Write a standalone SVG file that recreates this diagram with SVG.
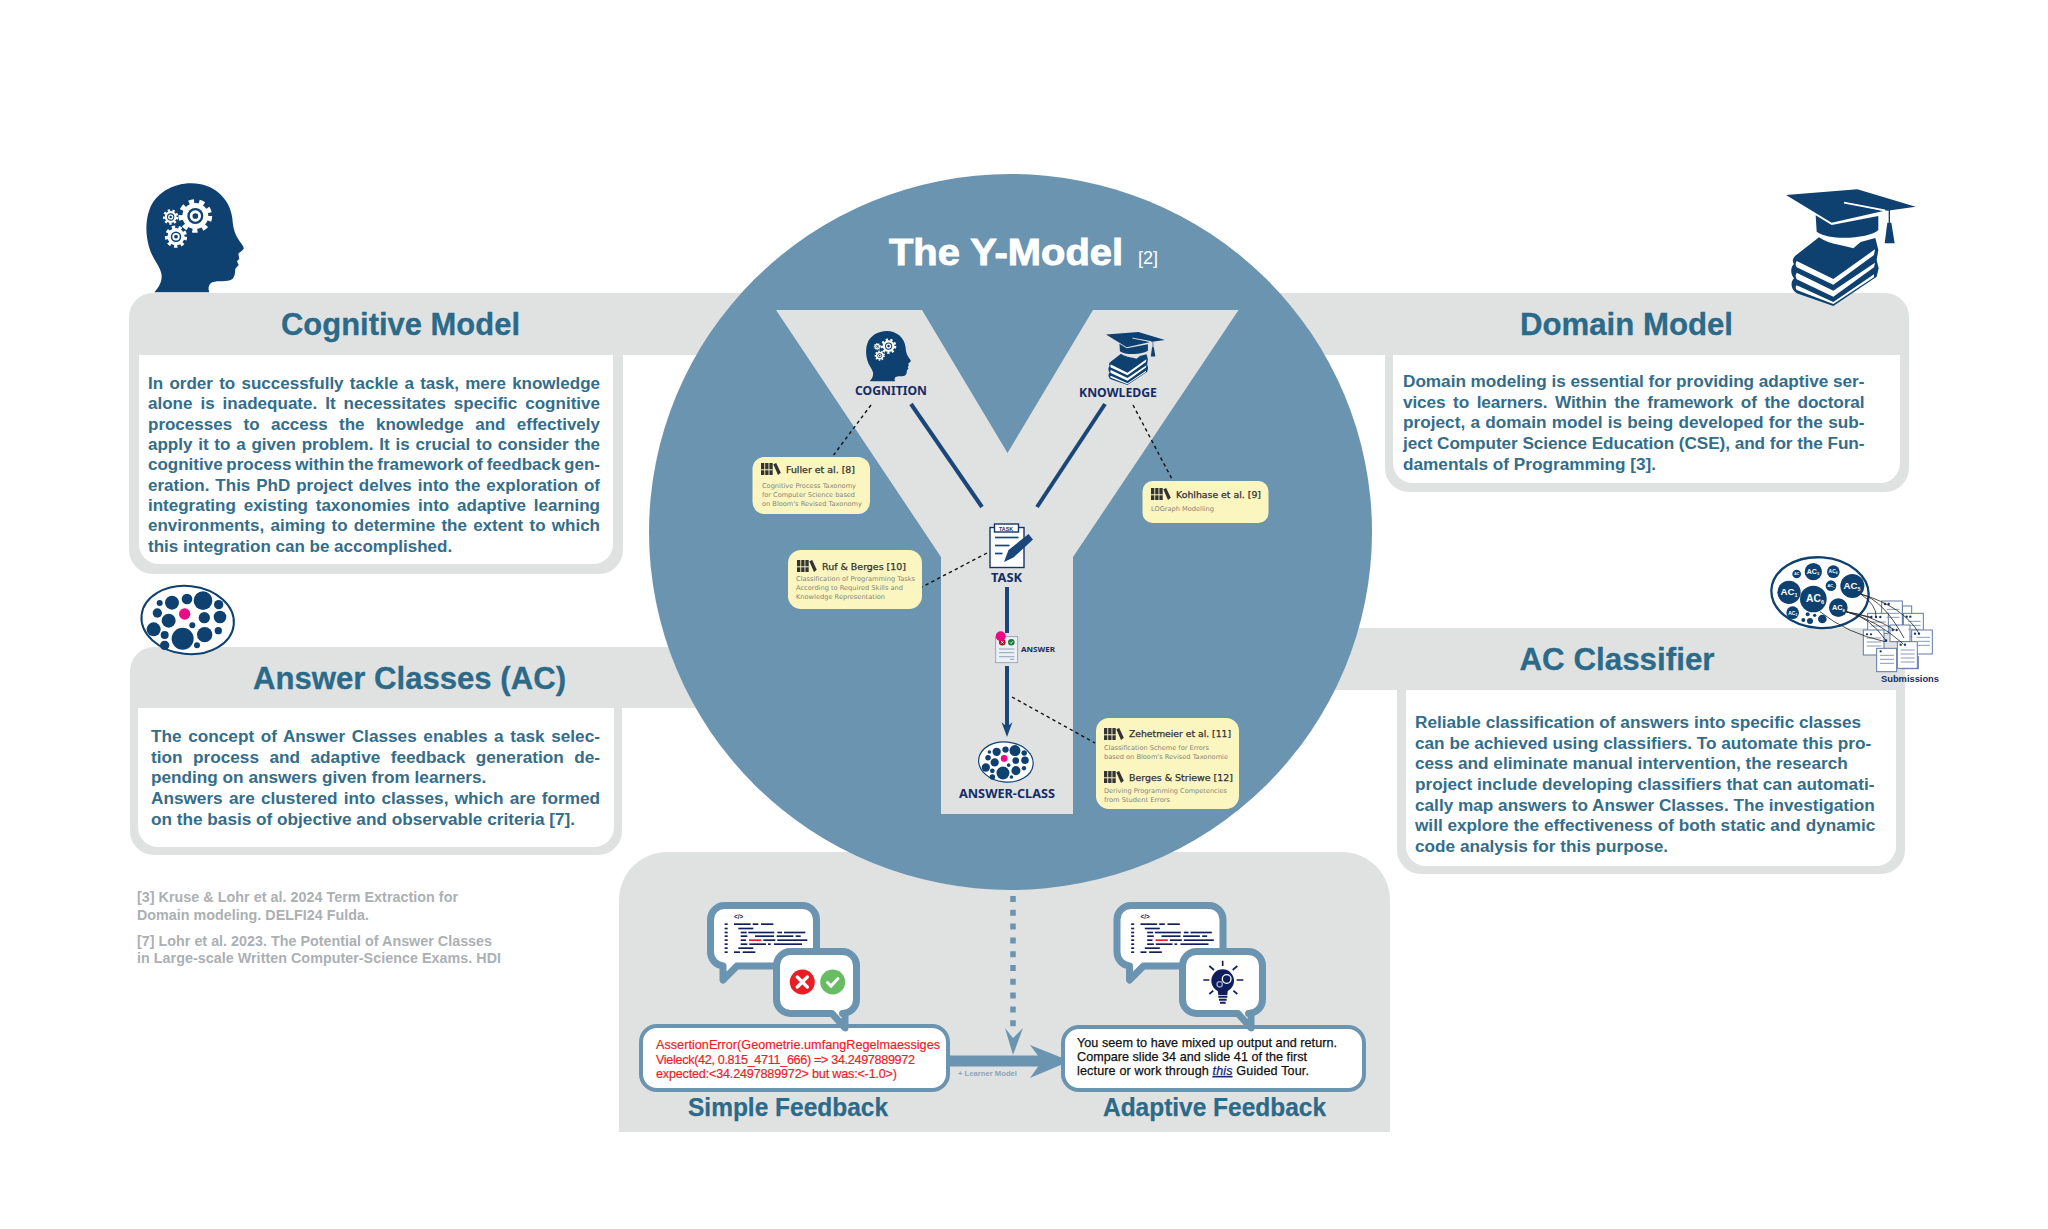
<svg xmlns="http://www.w3.org/2000/svg" width="2048" height="1229" viewBox="0 0 2048 1229">
<style>
text{font-family:"Liberation Sans",Arial,sans-serif}
.panel{fill:#e0e2e2}
.inner{fill:#fff}
.h{font-weight:700;font-size:31px;fill:#2b6a88;stroke:#2b6a88;stroke-width:.3}
.b{font-weight:700;font-size:17.2px;fill:#336d8a}
.cit{font-weight:700;font-size:14.3px;fill:#abb0b3}
.lab{font-family:"Noto Sans",sans-serif;font-weight:700;font-size:12.5px;fill:#142c66}
.ct{font-family:"DejaVu Sans",sans-serif;font-size:8.6px;fill:#333;stroke:#333;stroke-width:.25}
.cs{font-family:"DejaVu Sans",sans-serif;font-size:6.6px;fill:#85857c}
.card{fill:#fbf6c0}
.dash{fill:none;stroke:#111;stroke-width:1.4;stroke-dasharray:3.4 3.2}
.flow{fill:none;stroke:#1b4679;stroke-width:4}
.bub{fill:#fff;stroke:#6b94b0;stroke-width:7;stroke-linejoin:round}
.box{fill:#fff;stroke:#6b94b0;stroke-width:4}
.err{font-size:12.6px;fill:#ee1c25;stroke:#ee1c25;stroke-width:.2}
.fb{font-size:12.6px;fill:#111;stroke:#111;stroke-width:.25}
.fbt{font-weight:700;font-size:25px;fill:#2b6a88;stroke:#2b6a88;stroke-width:.25}
.ac{font-weight:700;fill:#fff;text-anchor:middle}
.doc{fill:#fff;stroke:#5f79a6;stroke-width:3}
.dl{stroke:#8a9bb5;stroke-width:3}
.dd{fill:#14356b}
.ln{fill:none;stroke:#222;stroke-width:2.4}
.nv{fill:#0f4170}
.code rect{fill:#101f5c}
</style>
<defs>
<g id="gear">
<circle r=".86" fill="none" stroke="#fff" stroke-width=".3" pathLength="16" stroke-dasharray="1 1"/>
<circle r=".78" fill="#fff"/><circle r=".48" fill="#0f4170"/><circle r=".34" fill="#fff"/><circle r=".17" fill="#0f4170"/>
</g>
<g id="head">
<path class="nv" d="M103,367 C115,352 125,340 125,318 C125,295 100,270 90,240 C78,205 74,160 88,120 C105,72 155,40 215,40 C280,40 330,85 337,145 C339,175 345,195 360,215 C368,226 374,233 370,238 C365,245 356,248 355,252 L358,266 L351,274 L356,285 L346,296 C345,310 345,325 330,331 C312,337 285,330 272,340 C265,347 264,358 268,367 Z"/>
<use href="#gear" transform="translate(226 138) scale(50)"/>
<use href="#gear" transform="translate(152 141) scale(23)"/>
<use href="#gear" transform="translate(168 200) scale(33)"/>
</g>
<g id="cap">
<path class="nv" d="M48,45 L262,28 L437,80 L352,92 L224,67 L340,93 L185,128 Z"/>
<path class="nv" d="M137,106 L185,135 L325,108 L325,150 C300,175 180,185 140,155 Z"/>
<path d="M222,68 L345,91" stroke="#fff" stroke-width="5" fill="none"/>
<path d="M358,90 V135" stroke="#0f4170" stroke-width="4" fill="none"/>
<path class="nv" d="M352,128 L364,128 L374,190 L344,190 Z"/>
<path class="nv" d="M75,228 L147,172 C180,195 220,195 250,205 L272,186 L316,174 L325,210 L320,240 L326,265 L320,290 L190,378 L80,340 C60,325 62,305 72,295 C60,280 62,260 72,252 C66,245 68,236 75,228 Z"/>
<path fill="#fff" d="M80,243 L190,297 L315,208 L312,225 L190,314 L80,262 C76,255 76,250 80,243 Z"/>
<path fill="#fff" d="M80,278 L190,332 L315,248 L312,262 L190,350 L80,298 C76,290 76,285 80,278 Z"/>
<path fill="#fff" d="M80,316 L190,366 L312,283 L312,292 L190,372 L80,330 C76,326 76,320 80,316 Z"/>
</g>
<g id="cluster">
<ellipse cx="203" cy="120" rx="139" ry="102" transform="rotate(6 203 120)" fill="#fff" stroke="#0f4170" stroke-width="6"/>
<g class="nv">
<circle cx="119" cy="69" r="9"/><circle cx="156" cy="68" r="21"/><circle cx="201" cy="57" r="16"/><circle cx="249" cy="62" r="28"/><circle cx="296" cy="74" r="14"/><circle cx="112" cy="99" r="14"/><circle cx="146" cy="122" r="21"/><circle cx="253" cy="113" r="17"/><circle cx="300" cy="111" r="19"/><circle cx="217" cy="136" r="9"/><circle cx="101" cy="148" r="21"/><circle cx="134" cy="165" r="12"/><circle cx="188" cy="176" r="33"/><circle cx="254" cy="164" r="23"/><circle cx="295" cy="152" r="11"/><circle cx="134" cy="196" r="14"/><circle cx="231" cy="196" r="9"/>
</g>
<circle cx="194" cy="102" r="17" fill="#ea0a83"/>
</g>
<g id="lib">
<rect x="0" y="0" width="3.3" height="12" fill="#333"/><rect x="4.2" y="0" width="3.3" height="12" fill="#333"/><rect x="8.4" y="0" width="3.3" height="12" fill="#333"/>
<path d="M0,6.8 H11.7" stroke="#fbf6c0" stroke-width="1" fill="none"/>
<path d="M12.3,1.2 L15.2,0 L19.8,9.8 L17,12 Z" fill="#333"/>
</g>
<path id="bub1" class="bub" d="M724.5,905.5 H802.5 a14,14 0 0 1 14,14 V952 a14,14 0 0 1 -14,14 H737 L723,980 V966 a14,14 0 0 1 -12.5,-14 V919.5 a14,14 0 0 1 14,-14 Z"/>
<path id="bub2" class="bub" d="M790.5,951.5 H842.5 a14,14 0 0 1 14,14 V999.5 a14,14 0 0 1 -14,14 H845 V1028 L832,1013.5 H790.5 a14,14 0 0 1 -14,-14 V965.5 a14,14 0 0 1 14,-14 Z"/>
<g id="code" class="code" transform="translate(620 880) scale(.33333)">
<text x="342" y="118" font-size="19" font-weight="700" fill="#101f5c">&lt;/&gt;</text>
<rect x="314" y="130" width="9" height="5"/><rect x="314" y="143" width="9" height="5"/><rect x="314" y="155" width="9" height="5"/><rect x="314" y="166" width="9" height="5"/><rect x="314" y="178" width="9" height="5"/><rect x="314" y="190" width="9" height="5"/><rect x="314" y="202" width="9" height="5"/><rect x="314" y="214" width="9" height="5"/>
<rect x="342" y="130" width="50" height="5"/><rect x="398" y="130" width="17" height="5"/><rect x="423" y="130" width="37" height="5"/>
<rect x="355" y="143" width="45" height="5"/>
<rect x="362" y="155" width="18" height="5"/><rect x="385" y="155" width="78" height="5"/><rect x="472" y="155" width="14" height="5"/><rect x="492" y="155" width="64" height="5"/>
<rect x="362" y="166" width="20" height="5"/><rect x="405" y="166" width="57" height="5"/><rect x="470" y="166" width="50" height="5"/><rect x="527" y="166" width="15" height="5"/>
<rect x="362" y="178" width="16" height="5"/><rect x="387" y="178" width="37" height="5" style="fill:#e81c24"/><rect x="430" y="178" width="36" height="5"/><rect x="472" y="178" width="90" height="5"/>
<rect x="362" y="190" width="20" height="5"/><rect x="388" y="190" width="50" height="5"/><rect x="444" y="190" width="8" height="5"/><rect x="462" y="190" width="84" height="5"/>
<rect x="355" y="202" width="45" height="5"/>
<rect x="342" y="214" width="18" height="5"/><rect x="368" y="214" width="38" height="5"/>
</g>
</defs>
<rect width="2048" height="1229" fill="#fff"/>

<g id="cognitive-model">
<rect class="panel" x="129" y="293" width="494" height="281" rx="24"/>
<rect class="panel" x="300" y="293" width="500" height="62"/>
<path class="inner" d="M139,355 H613 V544 a20,20 0 0 1 -20,20 H159 a20,20 0 0 1 -20,-20 Z"/>
<text class="h" x="281" y="335" textLength="239" lengthAdjust="spacingAndGlyphs">Cognitive Model</text>
<g class="b" style="font-size:17px">
<text x="148" y="389" textLength="452" word-spacing="1.58">In order to successfully tackle a task, mere knowledge</text>
<text x="148" y="409.4" textLength="452" word-spacing="3.2">alone is inadequate. It necessitates specific cognitive</text>
<text x="148" y="429.7" textLength="452" word-spacing="6.67">processes to access the knowledge and effectively</text>
<text x="148" y="450" textLength="452" word-spacing="1.07">apply it to a given problem. It is crucial to consider the</text>
<text x="148" y="470.4" textLength="452" word-spacing="-1">cognitive process within the framework of feedback gen-</text>
<text x="148" y="490.7" textLength="452" word-spacing="1.24">eration. This PhD project delves into the exploration of</text>
<text x="148" y="511" textLength="452" word-spacing="3.1">integrating existing taxonomies into adaptive learning</text>
<text x="148" y="531.4" textLength="452" word-spacing="1.55">environments, aiming to determine the extent to which</text>
<text x="148" y="551.7">this integration can be accomplished.</text>
</g>
<use href="#head" transform="translate(120 170) scale(.33333)"/>
</g>

<g id="answer-classes">
<rect class="panel" x="130" y="647" width="492" height="208" rx="24"/>
<rect class="panel" x="300" y="647" width="500" height="61"/>
<path class="inner" d="M138,708 H614 V827 a20,20 0 0 1 -20,20 H158 a20,20 0 0 1 -20,-20 Z"/>
<text class="h" x="253" y="689" textLength="313" lengthAdjust="spacingAndGlyphs">Answer Classes (AC)</text>
<g class="b">
<text x="151" y="742" textLength="449" word-spacing="1.75">The concept of Answer Classes enables a task selec-</text>
<text x="151" y="762.7" textLength="449" word-spacing="5.7">tion process and adaptive feedback generation de-</text>
<text x="151" y="783.4">pending on answers given from learners.</text>
<text x="151" y="804" textLength="449" word-spacing="1.46">Answers are clustered into classes, which are formed</text>
<text x="151" y="825">on the basis of objective and observable criteria [7].</text>
</g>
<use href="#cluster" transform="translate(120 580) scale(.33333)"/>
</g>

<g id="references">
<text class="cit" x="137" y="902" textLength="321">[3] Kruse &amp; Lohr et al. 2024 Term Extraction for</text>
<text class="cit" x="137" y="920" textLength="232">Domain modeling. DELFI24 Fulda.</text>
<text class="cit" x="137" y="946" textLength="355">[7] Lohr et al. 2023. The Potential of Answer Classes</text>
<text class="cit" x="137" y="963" textLength="364">in Large-scale Written Computer-Science Exams. HDI</text>
</g>

<g id="domain-model">
<rect class="panel" x="1385" y="293" width="524" height="199" rx="24"/>
<rect class="panel" x="1240" y="293" width="500" height="62"/>
<path class="inner" d="M1393,355 H1900 V463 a20,20 0 0 1 -20,20 H1413 a20,20 0 0 1 -20,-20 Z"/>
<text class="h" x="1520" y="335" textLength="213" lengthAdjust="spacingAndGlyphs">Domain Model</text>
<g class="b">
<text x="1403" y="387" textLength="461.5">Domain modeling is essential for providing adaptive ser-</text>
<text x="1403" y="407.7" textLength="461.5" word-spacing="3">vices to learners. Within the framework of the doctoral</text>
<text x="1403" y="428.3" textLength="461.5" word-spacing=".5">project, a domain model is being developed for the sub-</text>
<text x="1403" y="449" textLength="461.5">ject Computer Science Education (CSE), and for the Fun-</text>
<text x="1403" y="469.5">damentals of Programming [3].</text>
</g>
<use href="#cap" transform="translate(1770 180) scale(.33333)"/>
</g>

<g id="ac-classifier">
<rect class="panel" x="1397" y="628" width="508" height="246" rx="24"/>
<rect class="panel" x="1240" y="628" width="500" height="62"/>
<path class="inner" d="M1406,690 H1896 V846 a20,20 0 0 1 -20,20 H1426 a20,20 0 0 1 -20,-20 Z"/>
<text class="h" x="1519.5" y="670" textLength="195" lengthAdjust="spacingAndGlyphs">AC Classifier</text>
<g class="b">
<text x="1415" y="728">Reliable classification of answers into specific classes</text>
<text x="1415" y="748.7">can be achieved using classifiers. To automate this pro-</text>
<text x="1415" y="769.3">cess and eliminate manual intervention, the research</text>
<text x="1415" y="790">project include developing classifiers that can automati-</text>
<text x="1415" y="810.7">cally map answers to Answer Classes. The investigation</text>
<text x="1415" y="831.3">will explore the effectiveness of both static and dynamic</text>
<text x="1415" y="852">code analysis for this purpose.</text>
</g>
<g id="classifier-icon" transform="translate(1770 550) scale(.33333)">
<ellipse cx="150" cy="128" rx="146" ry="106" transform="rotate(4 150 128)" fill="#fff" stroke="#0f4170" stroke-width="7"/>
<g class="nv">
<circle cx="130" cy="65" r="26"/><circle cx="190" cy="65" r="19"/><circle cx="80" cy="72" r="13"/><circle cx="183" cy="107" r="16"/><circle cx="247" cy="108" r="36"/><circle cx="57" cy="127" r="35"/><circle cx="130" cy="147" r="40"/><circle cx="205" cy="173" r="28"/><circle cx="68" cy="188" r="19"/><circle cx="157" cy="207" r="13"/><circle cx="120" cy="213" r="9"/><circle cx="100" cy="210" r="6"/><circle cx="113" cy="193" r="6"/><circle cx="134" cy="196" r="5"/>
</g>
<text class="ac" font-size="21" x="129" y="72">AC<tspan font-size="12" dy="4">3</tspan></text>
<text class="ac" font-size="15" x="189" y="70">AC<tspan font-size="9" dy="3">4</tspan></text>
<text class="ac" font-size="10" x="80" y="76">AC</text>
<text class="ac" font-size="12" x="183" y="111">AC<tspan font-size="7" dy="2">7</tspan></text>
<text class="ac" font-size="29" x="246" y="118">AC<tspan font-size="16" dy="5">5</tspan></text>
<text class="ac" font-size="29" x="57" y="136">AC<tspan font-size="16" dy="5">1</tspan></text>
<text class="ac" font-size="31" x="135" y="157">AC<tspan font-size="17" dy="6">6</tspan></text>
<text class="ac" font-size="22" x="205" y="181">AC<tspan font-size="12" dy="4">8</tspan></text>
<text class="ac" font-size="15" x="68" y="194">AC<tspan font-size="9" dy="3">2</tspan></text>
<g>
<rect class="doc" x="397" y="168" width="28" height="50"/>
<rect class="doc" x="395" y="320" width="50" height="36"/>
<rect class="doc" x="335" y="153" width="62" height="75"/>
<rect class="doc" x="400" y="190" width="60" height="70"/>
<rect class="doc" x="293" y="190" width="62" height="60"/>
<rect class="doc" x="360" y="225" width="60" height="50"/>
<rect class="doc" x="425" y="240" width="62" height="72"/>
<rect class="doc" x="280" y="240" width="62" height="75"/>
<rect class="doc" x="320" y="295" width="60" height="70"/>
<rect class="doc" x="382" y="275" width="60" height="80"/>
</g>
<g class="dl">
<path d="M350,178 H388 M350,190 H388 M350,202 H388M415,214 H452 M415,226 H452 M415,238 H452M302,216 H348 M302,228 H348M440,262 H480 M440,274 H480 M440,286 H480M290,264 H334 M290,276 H334 M290,288 H334M330,316 H372 M330,328 H372 M330,340 H372M392,300 H434 M392,312 H434 M392,324 H434 M392,336 H434"/>
</g>
<g class="dd">
<circle cx="345" cy="162" r="3.5"/><circle cx="356" cy="162" r="3.5"/><circle cx="410" cy="200" r="3.5"/><circle cx="421" cy="200" r="3.5"/><circle cx="304" cy="201" r="3.5"/><circle cx="318" cy="201" r="3.5"/><circle cx="331" cy="201" r="3.5"/><circle cx="368" cy="240" r="3.5"/><circle cx="380" cy="240" r="3.5"/><circle cx="435" cy="251" r="3.5"/><circle cx="447" cy="251" r="3.5"/><circle cx="291" cy="253" r="3.5"/><circle cx="303" cy="253" r="3.5"/><circle cx="348" cy="272" r="4"/><circle cx="332" cy="304" r="3.5"/><circle cx="392" cy="284" r="3.5"/><circle cx="405" cy="284" r="3.5"/>
</g>
<g class="ln">
<path d="M272,132 Q340,150 402,264"/><path d="M272,132 Q320,165 318,200"/><path d="M272,132 Q400,170 447,250"/><path d="M228,185 Q300,200 348,272"/><path d="M228,185 Q300,195 375,240"/><path d="M228,185 Q320,210 400,282"/><path d="M150,185 Q230,250 345,275"/><path d="M228,185 L305,202"/>
</g>
</g>
<text x="1881" y="682" font-family="'Noto Sans',sans-serif" font-weight="700" font-size="9.5" fill="#142c66" textLength="58" lengthAdjust="spacingAndGlyphs">Submissions</text>
</g>

<g id="feedback-panel">
<path class="panel" d="M619,1132 V900 a48,48 0 0 1 48,-48 H1342 a48,48 0 0 1 48,48 V1132 Z"/>
</g>

<g id="y-model">
<ellipse cx="1010.5" cy="532" rx="361.5" ry="358" fill="#6b94b0"/>
<polygon points="776,310 922,310 1007.5,453 1093,310 1238.6,310 1073,557 1073,814 941,814 941,557" fill="#e0e2e2"/>
<text x="889" y="265" font-weight="700" font-size="36" fill="#fff" stroke="#fff" stroke-width=".9" textLength="234" lengthAdjust="spacingAndGlyphs">The Y-Model</text>
<text x="1138" y="264" font-size="18" fill="#fff">[2]</text>
</g>

<g id="connectors">
<path class="flow" d="M911,404 L982,507"/>
<path class="flow" d="M1105,404 L1037,507"/>
<path class="flow" d="M1007,587 V633"/>
<path class="flow" d="M1007,666 V730"/>
<polygon points="1001.5,722 1007,727 1012.5,722 1007,737" fill="#1b4679"/>
<path class="dash" d="M871,405 L833.6,455"/>
<path class="dash" d="M1133,405 L1173,481"/>
<path class="dash" d="M987,553 L922,587"/>
<path class="dash" d="M1012,697 L1095,743"/>
<path d="M1013,896 V1030" fill="none" stroke="#6b94b0" stroke-width="5.5" stroke-dasharray="6 7.8"/>
<path d="M950,1061 H1045" fill="none" stroke="#6b94b0" stroke-width="11"/>
<polygon points="1030,1045 1070,1061 1030,1078 1042,1061" fill="#6b94b0"/>
<polygon points="1005,1028 1013,1038 1023,1028 1013,1055" fill="#6b94b0"/>
<text x="958" y="1076" font-size="7.5" font-weight="700" fill="#8ba5b8" textLength="59" lengthAdjust="spacingAndGlyphs">+ Learner Model</text>
</g>

<g id="cognition">
<use href="#head" transform="translate(854 325) scale(.153)"/>
<text class="lab" x="855" y="395" textLength="72" lengthAdjust="spacingAndGlyphs">COGNITION</text>
</g>
<g id="knowledge">
<use href="#cap" transform="translate(1098.7 327.8) scale(.1515)"/>
<text class="lab" x="1079" y="397" textLength="78" lengthAdjust="spacingAndGlyphs">KNOWLEDGE</text>
</g>
<g id="task">
<rect x="990" y="527.5" width="34" height="40" fill="#fff" stroke="#14356b" stroke-width="1.4"/>
<rect x="994.5" y="524" width="24" height="8" fill="#fff" stroke="#14356b" stroke-width="1.4"/>
<text x="999" y="530.5" font-size="4.6" font-weight="700" fill="#14356b" textLength="14" lengthAdjust="spacingAndGlyphs">TASK</text>
<path d="M995,537.5 H1018.5" stroke="#1b4679" stroke-width="1.7"/>
<path d="M995,545.5 H1009.5" stroke="#1b4679" stroke-width="1.7"/>
<path d="M995,553.5 H1002.5" stroke="#1b4679" stroke-width="1.7"/>
<polygon points="1004,562 1008.5,550 1028.5,534 1033,539.5 1013.5,557.5" fill="#1b4679"/>
<text class="lab" x="991" y="582" style="font-size:13px" textLength="31" lengthAdjust="spacingAndGlyphs">TASK</text>
</g>
<g id="answer">
<rect x="995.7" y="636.7" width="22" height="26" fill="#eaf0f5" stroke="#7d9ab5" stroke-width=".8"/>
<circle cx="1002.3" cy="642.3" r="3.3" fill="#a4161c"/><circle cx="1011.3" cy="642.3" r="3.3" fill="#1d7a3a"/>
<path d="M1001,641 L1003.6,643.6 M1003.6,641 L1001,643.6 M1009.8,642.4 L1011,643.6 L1012.9,641.2" stroke="#fff" stroke-width=".8" fill="none"/>
<path d="M999,649 H1014.3 M999,652.7 H1014.3 M999,656.7 H1014.3 M1010,659.3 H1014.3" stroke="#7b8ea3" stroke-width=".8"/>
<circle cx="1000.7" cy="636.3" r="5" fill="#ea0a83"/>
<text class="lab" x="1021" y="652" style="font-size:7px" textLength="34" lengthAdjust="spacingAndGlyphs">ANSWER</text>
</g>
<g id="answer-class">
<use href="#cluster" transform="translate(966 738.4) scale(.1966)"/>
<text class="lab" x="959" y="798" textLength="96" lengthAdjust="spacingAndGlyphs">ANSWER-CLASS</text>
</g>

<g id="fuller">
<rect class="card" x="752.5" y="457" width="117.5" height="57" rx="12"/>
<use href="#lib" x="761" y="463"/>
<text class="ct" x="786" y="473" textLength="69" lengthAdjust="spacingAndGlyphs">Fuller et al. [8]</text>
<text class="cs" x="762" y="488" textLength="94" lengthAdjust="spacingAndGlyphs">Cognitive Process Taxonomy</text>
<text class="cs" x="762" y="497" textLength="93" lengthAdjust="spacingAndGlyphs">for Computer Science based</text>
<text class="cs" x="762" y="506" textLength="100" lengthAdjust="spacingAndGlyphs">on Bloom's Revised Taxonomy</text>
</g>
<g id="kohlhase">
<rect class="card" x="1142.5" y="481" width="126" height="42" rx="10"/>
<use href="#lib" x="1151" y="488"/>
<text class="ct" x="1176" y="498" textLength="85" lengthAdjust="spacingAndGlyphs">Kohlhase et al. [9]</text>
<text class="cs" x="1151" y="511" textLength="63" lengthAdjust="spacingAndGlyphs">LOGraph Modelling</text>
</g>
<g id="ruf">
<rect class="card" x="788" y="550" width="134" height="59" rx="13"/>
<use href="#lib" x="797" y="560"/>
<text class="ct" x="822" y="570" textLength="84" lengthAdjust="spacingAndGlyphs">Ruf &amp; Berges [10]</text>
<text class="cs" x="796" y="581" textLength="119" lengthAdjust="spacingAndGlyphs">Classification of Programming Tasks</text>
<text class="cs" x="796" y="590" textLength="107" lengthAdjust="spacingAndGlyphs">According to Required Skills and</text>
<text class="cs" x="796" y="599" textLength="89" lengthAdjust="spacingAndGlyphs">Knowledge Representation</text>
</g>
<g id="zehetmeier-berges">
<rect class="card" x="1096" y="718" width="143" height="91" rx="13"/>
<use href="#lib" x="1104" y="728"/>
<text class="ct" x="1129" y="737" textLength="102" lengthAdjust="spacingAndGlyphs">Zehetmeier et al. [11]</text>
<text class="cs" x="1104" y="750" textLength="105" lengthAdjust="spacingAndGlyphs">Classification Scheme for Errors</text>
<text class="cs" x="1104" y="759" textLength="124" lengthAdjust="spacingAndGlyphs">based on Bloom's Revised Taxonomie</text>
<use href="#lib" x="1104" y="771"/>
<text class="ct" x="1129" y="781" textLength="104" lengthAdjust="spacingAndGlyphs">Berges &amp; Striewe [12]</text>
<text class="cs" x="1104" y="793" textLength="123" lengthAdjust="spacingAndGlyphs">Deriving Programming Competencies</text>
<text class="cs" x="1104" y="802" textLength="66" lengthAdjust="spacingAndGlyphs">from Student Errors</text>
</g>

<g id="simple-feedback">
<rect class="box" x="641" y="1026" width="307" height="64" rx="16"/>
<use href="#bub1"/>
<use href="#code"/>
<use href="#bub2"/>
<circle cx="802.3" cy="982" r="12.5" fill="#ed1c24"/>
<circle cx="832.7" cy="982" r="12.5" fill="#68bd63"/>
<path d="M797.3,977 L807.3,987 M807.3,977 L797.3,987" stroke="#fff" stroke-width="3.4" fill="none" stroke-linecap="round"/>
<path d="M827.5,982.5 L831,986 L838,978.5" stroke="#fff" stroke-width="3" fill="none" stroke-linecap="round"/>
<text class="err" x="656" y="1049" textLength="284">AssertionError(Geometrie.umfangRegelmaessiges</text>
<text class="err" x="656" y="1063.5" textLength="259">Vieleck(42, 0.815_4711_666) =&gt; 34.2497889972</text>
<text class="err" x="656" y="1078" textLength="241">expected:&lt;34.2497889972&gt; but was:&lt;-1.0&gt;)</text>
<text class="fbt" x="688" y="1116" textLength="200" lengthAdjust="spacingAndGlyphs">Simple Feedback</text>
</g>
<g id="adaptive-feedback">
<rect class="box" x="1063" y="1027" width="301" height="63" rx="16"/>
<use href="#bub1" transform="translate(406.5 0)"/>
<use href="#code" transform="translate(406.5 0)"/>
<use href="#bub2" transform="translate(406 0)"/>
<g id="bulb" transform="translate(1000 880) scale(.33333)">
<circle cx="668" cy="302" r="34" fill="#101f5c"/>
<path d="M652,325 L684,325 L682,345 L655,345 Z" fill="#101f5c"/>
<path d="M655,350 H682 M657,359 H680 M660,368 H677" stroke="#101f5c" stroke-width="6" fill="none"/>
<circle cx="680" cy="297" r="13" fill="none" stroke="#fff" stroke-width="4"/><circle cx="659" cy="313" r="8" fill="none" stroke="#9fa8c0" stroke-width="4"/>
<path d="M668,242 V258 M610,300 H628 M710,300 H730 M628,258 L642,270 M712,258 L698,270 M628,342 L640,332 M712,342 L700,332" stroke="#101f5c" stroke-width="5" fill="none"/>
</g>
<text class="fb" x="1077" y="1047" textLength="260">You seem to have mixed up output and return.</text>
<text class="fb" x="1077" y="1061" textLength="230">Compare slide 34 and slide 41 of the first</text>
<text class="fb" x="1077" y="1075" textLength="232">lecture or work through <tspan font-style="italic" text-decoration="underline" fill="#14246e" stroke="#14246e">this</tspan> Guided Tour.</text>
<text class="fbt" x="1103" y="1116" textLength="223" lengthAdjust="spacingAndGlyphs">Adaptive Feedback</text>
</g>
</svg>
